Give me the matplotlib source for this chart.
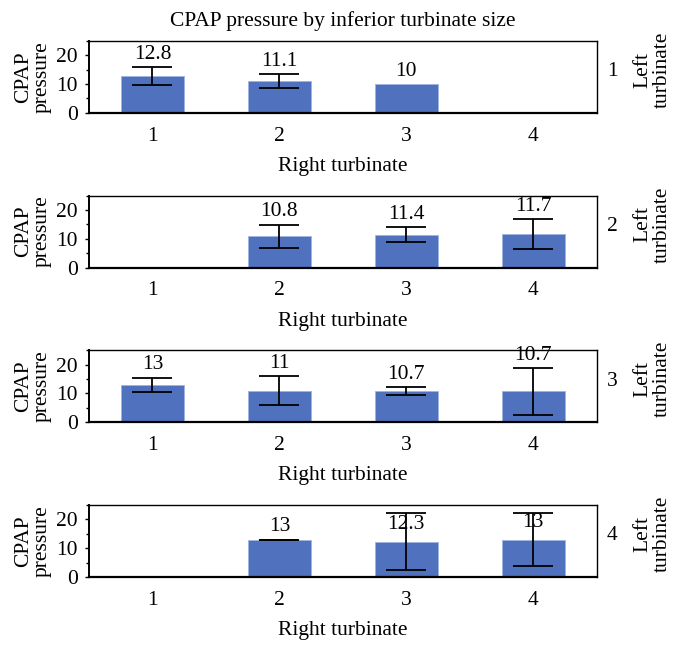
import numpy as np
import matplotlib
matplotlib.use('Agg')
import matplotlib.pyplot as plt
from matplotlib.ticker import MultipleLocator

plt.rcParams['font.family'] = ['Liberation Serif', 'DejaVu Serif']

# right turbinate size on x, one panel per left turbinate size
right_sizes = [1, 2, 3, 4]
left_sizes = ['1', '2', '3', '4']

# mean CPAP pressure (nan = no group)
cpap_left1 = [12.8, 11.1, 10, np.nan]
cpap_left2 = [np.nan, 10.8, 11.4, 11.7]
cpap_left3 = [13, 11, 10.7, 10.7]
cpap_left4 = [np.nan, 13, 12.3, 13]

# error bar half widths (nan = no error bar)
err_left1 = [3.1, 2.4, np.nan, np.nan]
err_left2 = [np.nan, 4.0, 2.6, 5.1]
err_left3 = [2.5, 5.0, 1.4, 8.1]
err_left4 = [np.nan, 0.0, 9.8, 9.1]

cpap = [cpap_left1, cpap_left2, cpap_left3, cpap_left4]
errs = [err_left1, err_left2, err_left3, err_left4]

bar_color = '#4F71BE'

fig, axes = plt.subplots(4, 1, figsize=(6.82, 6.49), dpi=100)
fig.subplots_adjust(left=0.1305, right=0.875, top=0.937, bottom=0.111, hspace=1.15)

for ax, vals, err, lab in zip(axes, cpap, errs, left_sizes):
    vals = np.array(vals, dtype=float)
    err = np.array(err, dtype=float)
    ax.bar(right_sizes, np.nan_to_num(vals), width=0.5, color=bar_color,
           edgecolor='#9fb4e0', linewidth=0.6)
    ok = ~np.isnan(err)
    ax.errorbar(np.array(right_sizes)[ok], vals[ok], yerr=err[ok], fmt='none',
                ecolor='black', elinewidth=1.3, capsize=14.5, capthick=1.3)
    for x, v, e in zip(right_sizes, vals, err):
        if np.isnan(v):
            continue
        top = v + (0 if np.isnan(e) else e)
        if top > 20:
            top = v + 1.5
        ax.annotate(f'{v:g}', (x, top), xytext=(0, 2.5), textcoords='offset points',
                    ha='center', va='bottom', fontsize=15.5)
    ax.set_xlim(0.5, 4.5)
    ax.set_ylim(0, 25)
    ax.set_xticks(right_sizes)
    ax.set_yticks([0, 10, 20])
    ax.yaxis.set_minor_locator(MultipleLocator(5))
    ax.tick_params(axis='x', length=0, pad=10, labelsize=15.5)
    ax.tick_params(axis='y', which='major', length=3, width=1, pad=5, labelsize=15.5)
    ax.tick_params(axis='y', which='minor', length=2.5, width=1)
    for s in ax.spines.values():
        s.set_linewidth(1.0)
    ax.spines['bottom'].set_linewidth(1.6)
    ax.spines['left'].set_linewidth(1.4)
    ax.set_xlabel('Right turbinate', fontsize=15.5, labelpad=8)
    ax.set_ylabel('CPAP\npressure', fontsize=15.5, linespacing=1.0, labelpad=3)
    ax.text(1.031, 0.57, lab, transform=ax.transAxes, ha='center', va='center', fontsize=15.5)
    ax.text(1.11, 0.6, 'Left\nturbinate', transform=ax.transAxes, rotation=90,
            ha='center', va='center', fontsize=15.5, linespacing=1.0)

axes[0].set_title('CPAP pressure by inferior turbinate size', fontsize=15.5, pad=11)

fig.savefig('out.png', dpi=100)
